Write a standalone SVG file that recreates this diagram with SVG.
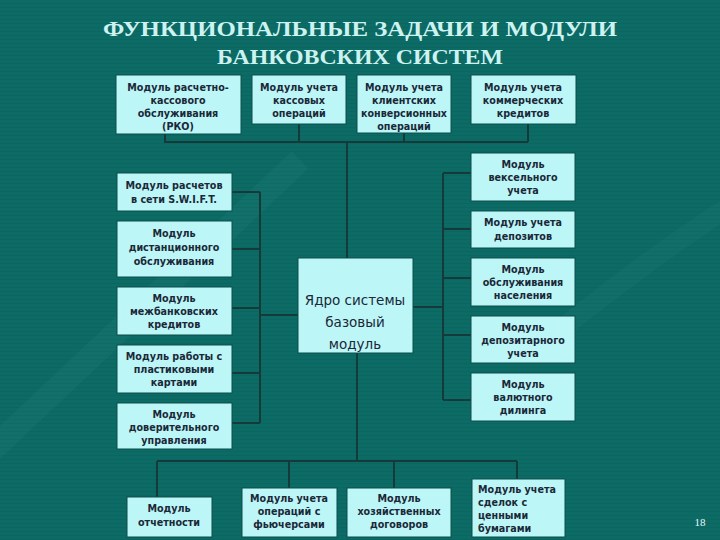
<svg xmlns="http://www.w3.org/2000/svg" width="720" height="540" viewBox="0 0 720 540">
<defs>
<pattern id="stripes" width="8" height="4" patternUnits="userSpaceOnUse">
<rect width="8" height="4" fill="#0d6b66"/>
<rect y="3" width="8" height="1" fill="#0b6661"/>
</pattern>
<style>
.box{fill:#bdf6f6;stroke:#0a4f4c;stroke-width:1}
.t{font-family:"DejaVu Sans","Verdana",sans-serif;font-size:9.6px;font-weight:bold;fill:#1a2838;text-anchor:middle}
.tl{font-family:"DejaVu Sans","Verdana",sans-serif;font-size:9.6px;font-weight:bold;fill:#1a2838;text-anchor:start}
.core{font-family:"DejaVu Sans","Verdana",sans-serif;font-size:13.5px;fill:#1a2838;text-anchor:middle}
.title{font-family:"Liberation Serif","Times New Roman",serif;font-size:22px;font-weight:bold;fill:#cdf3f1;text-anchor:middle}
.ln{stroke:#143a3a;stroke-width:2;fill:none}
</style>
</defs>
<rect width="720" height="540" fill="url(#stripes)"/>
<path d="M-40,480 Q120,330 300,160" stroke="#3a948f" stroke-opacity="0.12" stroke-width="24" fill="none"/>
<path d="M560,330 Q660,250 740,200" stroke="#3a948f" stroke-opacity="0.1" stroke-width="20" fill="none"/>

<g id="title">
<text class="title" x="360" y="36" textLength="514" lengthAdjust="spacingAndGlyphs">ФУНКЦИОНАЛЬНЫЕ ЗАДАЧИ И МОДУЛИ</text>
<text class="title" x="360" y="64" textLength="286" lengthAdjust="spacingAndGlyphs">БАНКОВСКИХ СИСТЕМ</text>
</g>

<g id="connectors" class="ln">
<path d="M165,134V142H528M299,124V142M404,133V142M528,124V142M347,142V258"/>
<path d="M232,192H260M232,249H260M232,308H260M232,373H260M232,423H260M260,192V423M260,315H298"/>
<path d="M413,307H443M443,173V400M443,173H471M443,229H471M443,278H471M443,335H471M443,400H471"/>
<path d="M357,353V461M157,461H517M157,461V497M289,461V488M394,461V488M517,461V479"/>
</g>

<g id="n_rko"><rect class="box" x="116" y="75" width="125" height="59"/>
<text class="t" x="178" y="91">Модуль расчетно-</text><text class="t" x="178" y="104">кассового</text><text class="t" x="178" y="117">обслуживания</text><text class="t" x="178" y="130">(РКО)</text></g>
<g id="n_kass"><rect class="box" x="252" y="75" width="94" height="49"/>
<text class="t" x="299" y="91">Модуль учета</text><text class="t" x="299" y="104">кассовых</text><text class="t" x="299" y="117">операций</text></g>
<g id="n_konv"><rect class="box" x="357" y="75" width="94" height="58"/>
<text class="t" x="404" y="91">Модуль учета</text><text class="t" x="404" y="104">клиентских</text><text class="t" x="404" y="117" textLength="86" lengthAdjust="spacingAndGlyphs">конверсионных</text><text class="t" x="404" y="130">операций</text></g>
<g id="n_komm"><rect class="box" x="471" y="75" width="105" height="49"/>
<text class="t" x="523" y="91">Модуль учета</text><text class="t" x="523" y="104">коммерческих</text><text class="t" x="523" y="117">кредитов</text></g>

<g id="n_swift"><rect class="box" x="117" y="173" width="115" height="38"/>
<text class="t" x="174" y="189">Модуль расчетов</text><text class="t" x="174" y="203">в сети S.W.I.F.T.</text></g>
<g id="n_dist"><rect class="box" x="117" y="221" width="115" height="56"/>
<text class="t" x="174" y="237">Модуль</text><text class="t" x="174" y="251">дистанционного</text><text class="t" x="174" y="265">обслуживания</text></g>
<g id="n_mezh"><rect class="box" x="117" y="287" width="115" height="48"/>
<text class="t" x="174" y="302">Модуль</text><text class="t" x="174" y="315">межбанковских</text><text class="t" x="174" y="328">кредитов</text></g>
<g id="n_plast"><rect class="box" x="117" y="345" width="115" height="48"/>
<text class="t" x="174" y="360">Модуль работы с</text><text class="t" x="174" y="373">пластиковыми</text><text class="t" x="174" y="386">картами</text></g>
<g id="n_dover"><rect class="box" x="117" y="403" width="115" height="46"/>
<text class="t" x="174" y="418">Модуль</text><text class="t" x="174" y="431">доверительного</text><text class="t" x="174" y="444">управления</text></g>

<g id="n_core"><rect class="box" x="298" y="258" width="115" height="95"/>
<text class="core" x="355" y="305">Ядро системы</text><text class="core" x="355" y="327">базовый</text><text class="core" x="355" y="349">модуль</text></g>

<g id="n_veks"><rect class="box" x="471" y="153" width="104" height="48"/>
<text class="t" x="523" y="168">Модуль</text><text class="t" x="523" y="181">вексельного</text><text class="t" x="523" y="194">учета</text></g>
<g id="n_depoz"><rect class="box" x="471" y="211" width="104" height="37"/>
<text class="t" x="523" y="226">Модуль учета</text><text class="t" x="523" y="240">депозитов</text></g>
<g id="n_nasel"><rect class="box" x="471" y="258" width="104" height="48"/>
<text class="t" x="523" y="273">Модуль</text><text class="t" x="523" y="286">обслуживания</text><text class="t" x="523" y="299">населения</text></g>
<g id="n_depozit"><rect class="box" x="471" y="316" width="104" height="47"/>
<text class="t" x="523" y="331">Модуль</text><text class="t" x="523" y="344">депозитарного</text><text class="t" x="523" y="357">учета</text></g>
<g id="n_val"><rect class="box" x="471" y="373" width="104" height="48"/>
<text class="t" x="523" y="388">Модуль</text><text class="t" x="523" y="401">валютного</text><text class="t" x="523" y="414">дилинга</text></g>

<g id="n_otch"><rect class="box" x="127" y="497" width="85" height="40"/>
<text class="t" x="169" y="512">Модуль</text><text class="t" x="169" y="526">отчетности</text></g>
<g id="n_fut"><rect class="box" x="242" y="488" width="95" height="49"/>
<text class="t" x="289" y="502">Модуль учета</text><text class="t" x="289" y="515">операций  с</text><text class="t" x="289" y="528">фьючерсами</text></g>
<g id="n_hoz"><rect class="box" x="347" y="488" width="104" height="49"/>
<text class="t" x="399" y="502">Модуль</text><text class="t" x="399" y="515">хозяйственных</text><text class="t" x="399" y="528">договоров</text></g>
<g id="n_cb"><rect class="box" x="472" y="479" width="93" height="58"/>
<text class="tl" x="478" y="493">Модуль учета</text><text class="tl" x="478" y="506">сделок с</text><text class="tl" x="478" y="519">ценными</text><text class="tl" x="478" y="532">бумагами</text></g>

<text x="700" y="526" font-family="Liberation Serif, serif" font-size="11" fill="#e6f8f8" text-anchor="middle">18</text>
</svg>
